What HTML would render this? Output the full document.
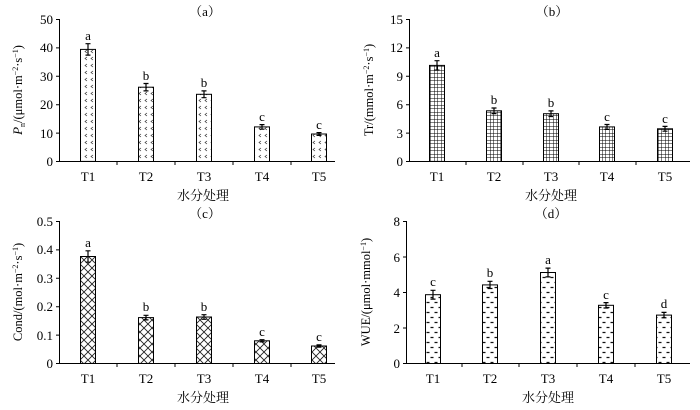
<!DOCTYPE html>
<html><head><meta charset="utf-8"><style>body{margin:0;background:#fff}svg{display:block}text{font-family:"Liberation Serif","Noto Serif CJK SC",serif;fill:#000}</style></head><body>
<svg width="700" height="410" viewBox="0 0 700 410" xmlns="http://www.w3.org/2000/svg">
<defs>
<pattern id="pa" width="6" height="7" patternUnits="userSpaceOnUse"><rect width="6" height="7" fill="#fff"/><path d="M3 1 L1 2.5 L3 4" fill="none" stroke="#333" stroke-width="0.7"/></pattern>
<pattern id="pb" width="3.5" height="3.5" patternUnits="userSpaceOnUse"><rect width="3.5" height="3.5" fill="#fff"/><path d="M0 0H3.5M0 0V3.5" stroke="#000" stroke-width="1"/></pattern>
<pattern id="pc" width="8" height="8" patternUnits="userSpaceOnUse"><rect width="8" height="8" fill="#fff"/><path d="M0 0L8 8M8 0L0 8M-1 7L1 9M7 -1L9 1" stroke="#222" stroke-width="0.9"/></pattern>
<pattern id="pd" width="8" height="10" patternUnits="userSpaceOnUse"><rect width="8" height="10" fill="#fff"/><path d="M2.5 2.5H5.5M0 7.5H1.5M6.5 7.5H8" stroke="#111" stroke-width="1.2"/></pattern>
</defs>
<g stroke="#000" stroke-width="1" fill="none">
<path d="M59.5 19V161.5H335M56 19.5H59.5M56 47.9H59.5M56 76.3H59.5M56 104.7H59.5M56 133.1H59.5M56 161.5H59.5M117 161.5V165M175 161.5V165M233 161.5V165M291 161.5V165"/>
<path d="M409.5 19V161.5H690M406 19.5H409.5M406 47.9H409.5M406 76.3H409.5M406 104.7H409.5M406 133.1H409.5M406 161.5H409.5M466 161.5V165M523 161.5V165M579 161.5V165M636 161.5V165"/>
<path d="M59.5 221V363.5H335M56 221.5H59.5M56 249.9H59.5M56 278.3H59.5M56 306.7H59.5M56 335.1H59.5M56 363.5H59.5M117 363.5V367M175 363.5V367M233 363.5V367M291 363.5V367"/>
<path d="M406.5 221V363.5H690M403 221.5H406.5M403 257H406.5M403 292.5H406.5M403 328H406.5M403 363.5H406.5M462 363.5V367M519 363.5V367M577 363.5V367M635 363.5V367"/>
</g>
<g stroke="#000" stroke-width="1">
<rect x="80.5" y="49.4" width="15" height="112" fill="url(#pa)"/>
<rect x="138.5" y="87.2" width="15" height="74.3" fill="url(#pa)"/>
<rect x="196.5" y="94.3" width="15" height="67.2" fill="url(#pa)"/>
<rect x="254.5" y="126.9" width="15" height="34.6" fill="url(#pa)"/>
<rect x="311.5" y="134" width="15" height="27.5" fill="url(#pa)"/>
<rect x="429.5" y="65.4" width="15" height="96" fill="url(#pb)"/>
<rect x="486.5" y="110.8" width="15" height="50.7" fill="url(#pb)"/>
<rect x="543.5" y="113.7" width="15" height="47.8" fill="url(#pb)"/>
<rect x="599.5" y="126.9" width="15" height="34.6" fill="url(#pb)"/>
<rect x="657.5" y="128.8" width="15" height="32.7" fill="url(#pb)"/>
<rect x="80.5" y="256.5" width="15" height="107" fill="url(#pc)"/>
<rect x="138.5" y="317.6" width="15" height="45.9" fill="url(#pc)"/>
<rect x="196.5" y="317" width="15" height="46.5" fill="url(#pc)"/>
<rect x="254.5" y="340.8" width="15" height="22.7" fill="url(#pc)"/>
<rect x="311.5" y="346" width="15" height="17.5" fill="url(#pc)"/>
<rect x="425.5" y="294.7" width="15" height="68.8" fill="url(#pd)"/>
<rect x="482.5" y="284.9" width="15" height="78.6" fill="url(#pd)"/>
<rect x="540.5" y="272.5" width="15" height="91" fill="url(#pd)"/>
<rect x="598.5" y="305.3" width="15" height="58.2" fill="url(#pd)"/>
<rect x="656.5" y="315.1" width="15" height="48.4" fill="url(#pd)"/>
</g>
<g stroke="#000" stroke-width="1.2" fill="none">
<path d="M88 43.7V55.1M85.5 43.7H90.5M85.5 55.1H90.5"/>
<path d="M146 83.5V90.9M143.5 83.5H148.5M143.5 90.9H148.5"/>
<path d="M204 90.9V97.7M201.5 90.9H206.5M201.5 97.7H206.5"/>
<path d="M262 124.6V129.2M259.5 124.6H264.5M259.5 129.2H264.5"/>
<path d="M319 132.6V135.4M316.5 132.6H321.5M316.5 135.4H321.5"/>
<path d="M437 60.7V70.1M434.5 60.7H439.5M434.5 70.1H439.5"/>
<path d="M494 108V113.6M491.5 108H496.5M491.5 113.6H496.5"/>
<path d="M551 110.9V116.5M548.5 110.9H553.5M548.5 116.5H553.5"/>
<path d="M607 124.5V129.3M604.5 124.5H609.5M604.5 129.3H609.5"/>
<path d="M665 126.4V131.2M662.5 126.4H667.5M662.5 131.2H667.5"/>
<path d="M88 250.8V262.2M85.5 250.8H90.5M85.5 262.2H90.5"/>
<path d="M146 315.3V319.9M143.5 315.3H148.5M143.5 319.9H148.5"/>
<path d="M204 314.7V319.3M201.5 314.7H206.5M201.5 319.3H206.5"/>
<path d="M262 339.7V341.9M259.5 339.7H264.5M259.5 341.9H264.5"/>
<path d="M319 344.9V347.1M316.5 344.9H321.5M316.5 347.1H321.5"/>
<path d="M433 290.3V299.1M430.5 290.3H435.5M430.5 299.1H435.5"/>
<path d="M490 281.3V288.5M487.5 281.3H492.5M487.5 288.5H492.5"/>
<path d="M548 268.1V276.9M545.5 268.1H550.5M545.5 276.9H550.5"/>
<path d="M606 302.6V308M603.5 302.6H608.5M603.5 308H608.5"/>
<path d="M664 312.4V317.8M661.5 312.4H666.5M661.5 317.8H666.5"/>
</g>
<g font-size="13" text-anchor="middle">
<text x="88" y="40">a</text><text x="146" y="80">b</text><text x="204" y="87">b</text><text x="262" y="121">c</text><text x="319" y="129">c</text>
<text x="437" y="57">a</text><text x="494" y="104">b</text><text x="551" y="107">b</text><text x="607" y="121">c</text><text x="665" y="123">c</text>
<text x="88" y="247">a</text><text x="146" y="311">b</text><text x="204" y="311">b</text><text x="262" y="336">c</text><text x="319" y="341">c</text>
<text x="433" y="286">c</text><text x="490" y="277">b</text><text x="548" y="264">a</text><text x="606" y="299">c</text><text x="664" y="308">d</text>
</g>
<g font-size="13" text-anchor="end">
<text x="53" y="24">50</text><text x="53" y="52">40</text><text x="53" y="81">30</text><text x="53" y="109">20</text><text x="53" y="138">10</text><text x="53" y="166">0</text>
<text x="403" y="24">15</text><text x="403" y="52">12</text><text x="403" y="81">9</text><text x="403" y="109">6</text><text x="403" y="138">3</text><text x="403" y="166">0</text>
<text x="53" y="226">0.5</text><text x="53" y="254">0.4</text><text x="53" y="283">0.3</text><text x="53" y="311">0.2</text><text x="53" y="340">0.1</text><text x="53" y="368">0</text>
<text x="400" y="226">8</text><text x="400" y="262">6</text><text x="400" y="297">4</text><text x="400" y="333">2</text><text x="400" y="368">0</text>
</g>
<g font-size="13" text-anchor="middle">
<text x="88" y="181">T1</text><text x="146" y="181">T2</text><text x="204" y="181">T3</text><text x="262" y="181">T4</text><text x="319" y="181">T5</text>
<text x="437" y="181">T1</text><text x="494" y="181">T2</text><text x="551" y="181">T3</text><text x="607" y="181">T4</text><text x="665" y="181">T5</text>
<text x="88" y="383">T1</text><text x="146" y="383">T2</text><text x="204" y="383">T3</text><text x="262" y="383">T4</text><text x="319" y="383">T5</text>
<text x="433" y="383">T1</text><text x="490" y="383">T2</text><text x="548" y="383">T3</text><text x="606" y="383">T4</text><text x="664" y="383">T5</text>
<text x="203" y="200">水分处理</text><text x="551" y="200">水分处理</text>
<text x="203" y="402">水分处理</text><text x="548" y="402">水分处理</text>
<text x="205" y="16">（a）</text><text x="552" y="16">（b）</text><text x="205" y="218">（c）</text><text x="551" y="218">（d）</text>
</g>
<g font-size="12.5" text-anchor="middle">
<text transform="translate(22 90) rotate(-90)"><tspan font-style="italic" font-size="13">P</tspan><tspan font-size="8" dy="3">n</tspan><tspan dy="-3">/(μmol·m</tspan><tspan font-size="8" dy="-4">−2</tspan><tspan dy="4">·s</tspan><tspan font-size="8" dy="-4">−1</tspan><tspan dy="4">)</tspan></text>
<text transform="translate(373 90) rotate(-90)">Tr/(mmol·m<tspan font-size="8" dy="-4">−2</tspan><tspan dy="4">·s</tspan><tspan font-size="8" dy="-4">−1</tspan><tspan dy="4">)</tspan></text>
<text transform="translate(22 292) rotate(-90)">Cond/(mol·m<tspan font-size="8" dy="-4">−2</tspan><tspan dy="4">·s</tspan><tspan font-size="8" dy="-4">−1</tspan><tspan dy="4">)</tspan></text>
<text transform="translate(370 292) rotate(-90)">WUE/(μmol·mmol<tspan font-size="8" dy="-4">−1</tspan><tspan dy="4">)</tspan></text>
</g>
</svg>
</body></html>
